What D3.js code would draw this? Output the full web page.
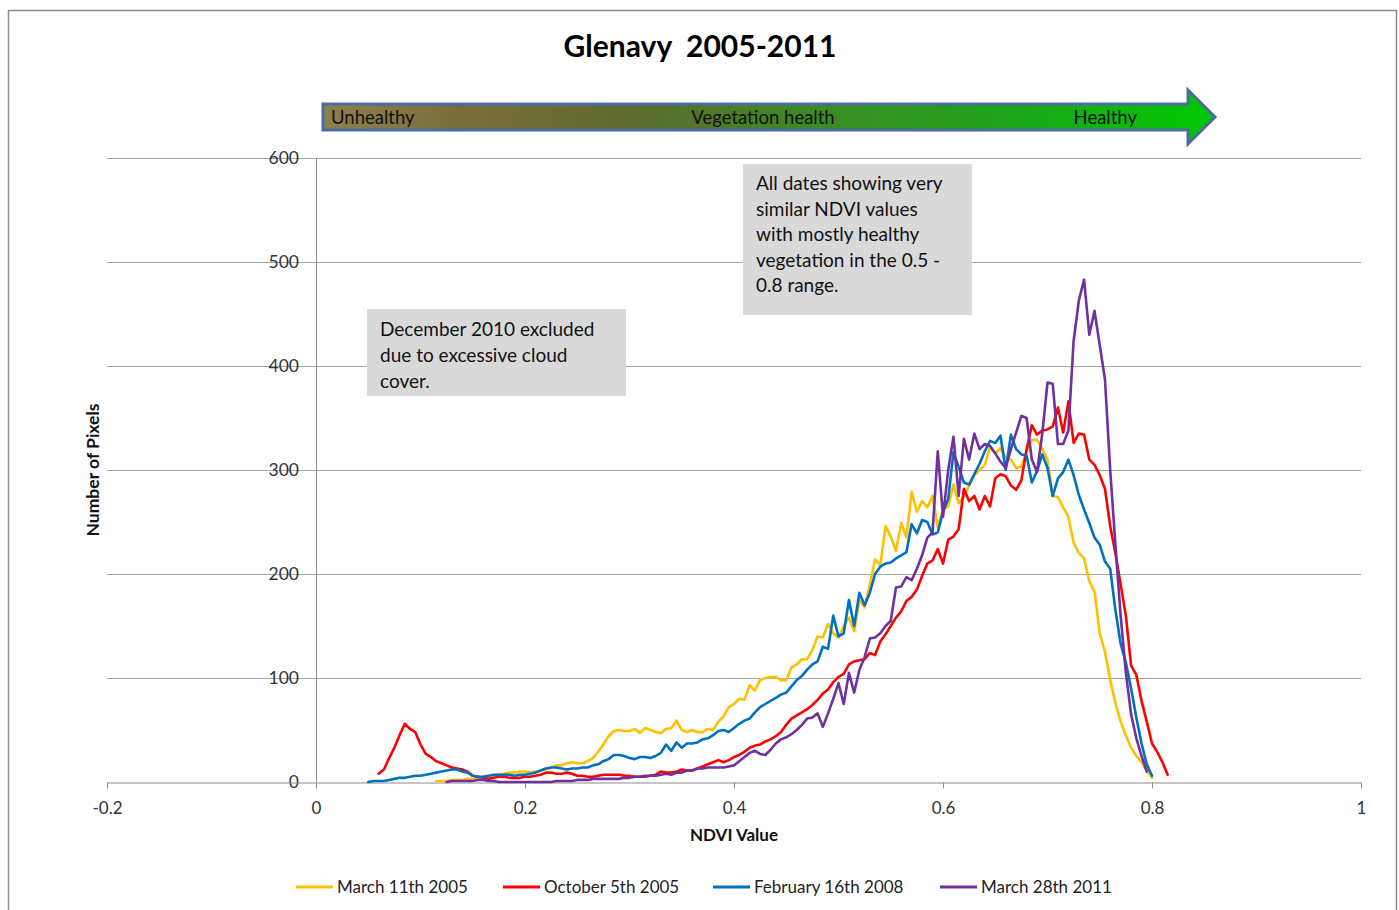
<!DOCTYPE html>
<html>
<head>
<meta charset="utf-8">
<script src="https://cdn.jsdelivr.net/npm/d3@7"></script>
<style>
  html, body { margin: 0; padding: 0; background: #fff; }
  svg { display: block; font-family: Lato, "Open Sans", sans-serif; }
</style>
</head>
<body>
<div id="chart"></div>
<script>
// ---------- DATA ----------
const chartTitle = "Glenavy  2005-2011";
const xTicks = [-0.2, 0, 0.2, 0.4, 0.6, 0.8, 1];
const xTickLabels = ["-0.2", "0", "0.2", "0.4", "0.6", "0.8", "1"];
const yTicks = [0, 100, 200, 300, 400, 500, 600];
const seriesNames = ["March 11th 2005", "October 5th 2005", "February 16th 2008", "March 28th 2011"];
const seriesColors = ["#ffc000", "#ff0000", "#0070c0", "#7030a0"];

// NDVI bins (shared x categories)
const ndvi = [
  0.050,0.055,0.060,0.065,0.070,0.075,0.080,0.085,0.090,0.095,
  0.100,0.105,0.110,0.115,0.120,0.125,0.130,0.135,0.140,0.145,
  0.150,0.155,0.160,0.165,0.170,0.175,0.180,0.185,0.190,0.195,
  0.200,0.205,0.210,0.215,0.220,0.225,0.230,0.235,0.240,0.245,
  0.250,0.255,0.260,0.265,0.270,0.275,0.280,0.285,0.290,0.295,
  0.300,0.305,0.310,0.315,0.320,0.325,0.330,0.335,0.340,0.345,
  0.350,0.355,0.360,0.365,0.370,0.375,0.380,0.385,0.390,0.395,
  0.400,0.405,0.410,0.415,0.420,0.425,0.430,0.435,0.440,0.445,
  0.450,0.455,0.460,0.465,0.470,0.475,0.480,0.485,0.490,0.495,
  0.500,0.505,0.510,0.515,0.520,0.525,0.530,0.535,0.540,0.545,
  0.550,0.555,0.560,0.565,0.570,0.575,0.580,0.585,0.590,0.595,
  0.600,0.605,0.610,0.615,0.620,0.625,0.630,0.635,0.640,0.645,
  0.650,0.655,0.660,0.665,0.670,0.675,0.680,0.685,0.690,0.695,
  0.700,0.705,0.710,0.715,0.720,0.725,0.730,0.735,0.740,0.745,
  0.750,0.755,0.760,0.765,0.770,0.775,0.780,0.785,0.790,0.795,
  0.800,0.805,0.810,0.815
];

const march2005 = [
  null,null,null,null,null,null,null,null,null,null,
  null,null,null,1,1,1,2,2,2,3,
  3,4,5,5,6,7,8,9,9,10,
  10,9,10,11,12,14,16,16,18,19,
  18,18,20,23,29,36,44,49,50,49,
  49,51,47,52,50,48,47,51,52,59,
  50,48,50,48,48,51,50,58,63,72,
  75,80,79,93,88,98,100,101,101,98,
  98,110,113,118,118,127,140,139,152,143,
  139,150,158,145,175,168,190,214,208,246,
  236,222,249,235,279,260,270,264,275,245,
  262,265,286,268,274,285,295,300,305,322,
  316,321,312,310,302,303,318,329,329,320,
  310,275,274,264,255,230,220,215,193,183,
  143,125,98,76,58,45,33,25,19,11,
  4,null,null,null
];

const october2005 = [
  null,null,8,12,23,33,45,56,51,48,
  36,27,24,20,18,16,14,13,12,10,
  6,5,4,3,4,5,5,4,4,4,
  5,5,6,7,9,9,8,8,9,8,
  6,6,5,5,6,7,7,7,7,6,
  6,5,5,5,6,7,10,9,9,10,
  12,11,11,13,15,17,19,21,19,21,
  24,26,29,33,35,36,39,41,44,48,
  55,61,64,67,70,74,79,85,89,96,
  101,104,113,116,117,118,124,122,135,142,
  150,158,164,174,178,185,198,210,213,224,
  210,233,236,243,282,270,275,262,275,265,
  292,296,294,285,281,290,320,343,334,338,
  339,342,360,336,366,326,335,334,310,305,
  295,282,246,220,190,160,112,103,78,58,
  37,29,19,7
];

const february2008 = [
  0,1,1,1,2,3,4,4,5,6,
  6,7,8,9,10,11,12,12,10,9,
  6,5,5,6,7,7,7,7,6,7,
  7,8,9,11,13,14,14,13,12,13,
  13,14,14,16,17,20,22,26,26,25,
  23,22,24,24,23,25,28,36,30,38,
  33,37,37,38,41,42,45,49,50,48,
  52,56,59,61,67,72,75,78,81,84,
  86,92,98,102,108,113,116,130,128,160,
  140,143,175,150,182,170,182,200,207,210,
  211,215,218,221,248,239,252,250,238,240,
  260,272,317,303,288,286,296,306,318,328,
  326,333,300,334,320,315,314,288,299,315,
  302,275,292,298,310,295,276,262,249,235,
  228,212,205,165,133,115,90,62,37,17,
  6,null,null,null
];

const march2011 = [
  null,null,null,null,null,null,null,null,null,null,
  null,null,null,null,null,0,1,1,1,1,
  1,2,2,1,1,0,0,0,0,0,
  0,0,0,0,0,0,1,1,1,1,
  2,2,2,3,3,3,3,3,3,4,
  4,5,5,6,6,6,7,8,7,9,
  9,11,11,13,13,14,14,14,14,15,
  16,20,24,28,30,27,26,31,37,41,
  43,46,50,55,61,62,66,53,66,80,
  95,75,105,86,108,120,138,139,143,150,
  155,187,188,197,194,205,218,235,240,318,
  255,300,332,275,330,310,335,320,325,323,
  316,308,302,320,336,352,350,310,298,335,
  384,383,325,325,338,424,463,483,430,453,
  420,387,300,228,160,105,65,42,25,10,
  null,null,null,null
];

const seriesValues = [march2005, october2005, february2008, march2011];

const noteLeft = ["December 2010 excluded", "due to excessive cloud", "cover."];
const noteRight = ["All dates showing very", "similar NDVI values", "with mostly healthy", "vegetation in the 0.5 -", "0.8 range."];
const arrowLabels = ["Unhealthy", "Vegetation health", "Healthy"];

// ---------- DRAW ----------
const W = 1399, H = 910;
const svg = d3.select("#chart").append("svg").attr("width", W).attr("height", H);

// outer border
svg.append("rect").attr("x", 8.5).attr("y", 10.5).attr("width", 1388).attr("height", 920)
  .attr("fill", "#fff").attr("stroke", "#8c8c8c").attr("stroke-width", 1.5);

const x = d3.scaleLinear().domain([-0.2, 1]).range([107, 1361]);
const y = d3.scaleLinear().domain([0, 600]).range([782, 158]);

// title
svg.append("text").attr("x", 700).attr("y", 57).attr("text-anchor", "middle")
  .attr("font-size", 30).attr("font-weight", "bold").attr("fill", "#000")
  .style("white-space", "pre").text(chartTitle);

// gradient arrow
const defs = svg.append("defs");
const grad = defs.append("linearGradient").attr("id", "vegGrad")
  .attr("x1", "0%").attr("x2", "100%").attr("y1", "0%").attr("y2", "0%");
[["0%", "#8c804f"], ["17%", "#766c3a"], ["34%", "#5e6a30"], ["55%", "#3b8a24"], ["80%", "#1aa918"], ["100%", "#00c800"]]
  .forEach(([o, c]) => grad.append("stop").attr("offset", o).attr("stop-color", c));
const aL = 323, aR = 1215, aHead = 1188, aTop = 104, aBot = 130, hTop = 90, hBot = 144, aMid = 117;
svg.append("path")
  .attr("d", `M${aL},${aTop} L${aHead},${aTop} L${aHead},${hTop} L${aR},${aMid} L${aHead},${hBot} L${aHead},${aBot} L${aL},${aBot} Z`)
  .attr("fill", "url(#vegGrad)").attr("stroke", "#4a6c9e").attr("stroke-width", 3).attr("stroke-linejoin", "miter");
const arrowText = svg.append("g").attr("font-size", 18.5).attr("fill", "#111");
arrowText.append("text").attr("x", 331).attr("y", 124).text(arrowLabels[0]);
arrowText.append("text").attr("x", 763).attr("y", 124).attr("text-anchor", "middle").text(arrowLabels[1]);
arrowText.append("text").attr("x", 1137).attr("y", 124).attr("text-anchor", "end").text(arrowLabels[2]);

// gridlines
svg.append("g").selectAll("line").data(yTicks.filter(d => d > 0)).join("line")
  .attr("x1", x(-0.2)).attr("x2", x(1)).attr("y1", d => y(d) + 0.5).attr("y2", d => y(d) + 0.5)
  .attr("stroke", "#a6a6a6").attr("stroke-width", 1);

// y axis line at x = 0
svg.append("line").attr("x1", x(0) + 0.5).attr("x2", x(0) + 0.5).attr("y1", y(600)).attr("y2", y(0))
  .attr("stroke", "#8c8c8c").attr("stroke-width", 1);

// y tick labels
svg.append("g").selectAll("text").data(yTicks).join("text")
  .attr("x", 299).attr("y", d => y(d) + 6).attr("text-anchor", "end")
  .attr("font-size", 17.5).attr("fill", "#333").text(d => d);

// x axis
const xAxis = d3.axisBottom(x).tickValues(xTicks).tickSize(6).tickSizeOuter(0)
  .tickFormat((d, i) => xTickLabels[i]);
const gx = svg.append("g").attr("transform", `translate(0,${y(0) + 0.5})`).call(xAxis);
gx.select(".domain").attr("stroke", "#8c8c8c");
gx.selectAll(".tick line").attr("stroke", "#8c8c8c");
gx.selectAll(".tick text").attr("font-size", 17).attr("fill", "#333").attr("dy", "1.35em")
  .attr("font-family", "Lato, sans-serif");

// axis titles
svg.append("text").attr("x", x(0.4)).attr("y", 841).attr("text-anchor", "middle")
  .attr("font-size", 17).attr("font-weight", "bold").attr("fill", "#111").text("NDVI Value");
svg.append("text").attr("transform", `translate(99,${y(300)}) rotate(-90)`).attr("text-anchor", "middle")
  .attr("font-size", 17.5).attr("font-weight", "bold").attr("fill", "#111").text("Number of Pixels");

// annotation boxes
function note(x0, y0, w, h, lines, tx, ty, lh) {
  svg.append("rect").attr("x", x0).attr("y", y0).attr("width", w).attr("height", h).attr("fill", "#d9d9d9");
  svg.append("g").selectAll("text").data(lines).join("text")
    .attr("x", tx).attr("y", (d, i) => ty + i * lh).attr("font-size", 19).attr("fill", "#111").text(d => d);
}
note(367, 309, 259, 87, noteLeft, 380, 336, 26);
note(743, 164, 229, 151, noteRight, 756, 190, 25.5);

// series lines
const line = d3.line()
  .defined(d => d.v != null)
  .x(d => x(d.x)).y(d => y(d.v));
seriesValues.forEach((vals, s) => {
  const pts = ndvi.map((xv, i) => ({ x: xv, v: vals[i] }));
  svg.append("path").datum(pts).attr("d", line)
    .attr("fill", "none").attr("stroke", seriesColors[s]).attr("stroke-width", 2.6)
    .attr("stroke-linejoin", "round").attr("stroke-linecap", "round");
});

// legend
const legendX = [296, 503, 713, 940];
const lg = svg.append("g");
seriesNames.forEach((name, i) => {
  lg.append("line").attr("x1", legendX[i]).attr("x2", legendX[i] + 37).attr("y1", 887).attr("y2", 887)
    .attr("stroke", seriesColors[i]).attr("stroke-width", 3);
  lg.append("text").attr("x", legendX[i] + 41).attr("y", 893).attr("font-size", 17).attr("fill", "#222").text(name);
});
</script>
</body>
</html>
